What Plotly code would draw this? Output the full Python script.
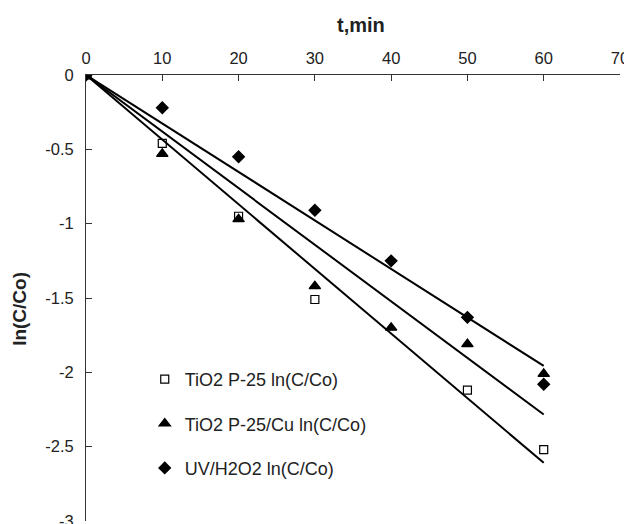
import plotly.graph_objects as go
import numpy as np

t = [0, 10, 20, 30, 40, 50, 60]
tio2 = [0, -0.46, -0.95, -1.51, None, -2.12, -2.52]
tio2_cu = [0, -0.53, -0.97, -1.42, -1.70, -1.81, -2.01]
uv_h2o2 = [0, -0.22, -0.55, -0.91, -1.25, -1.63, -2.08]
names = ["TiO2 P-25 ln(C/Co)", "TiO2 P-25/Cu ln(C/Co)", "UV/H2O2 ln(C/Co)"]
symbols = ["square-open", "triangle-up", "diamond"]
sizes = [8, 10, 9]

fig = go.Figure()
series = [tio2, tio2_cu, uv_h2o2]

# trend lines through origin (least squares)
for ys in series:
    xs = np.array([x for x, y in zip(t, ys) if y is not None], float)
    yv = np.array([y for y in ys if y is not None], float)
    k = (xs * yv).sum() / (xs * xs).sum()
    fig.add_trace(go.Scatter(x=[0, 60], y=[0, k * 60], mode="lines",
                             line=dict(color="black", width=2), showlegend=False,
                             hoverinfo="skip"))

for i, ys in enumerate(series):
    fig.add_trace(go.Scatter(x=t, y=ys, mode="markers", name=names[i],
                             legendgroup=str(i),
                             marker=dict(symbol=symbols[i], size=sizes[i], color="black",
                                         line=dict(color="black", width=1.2))))

FONT = "Liberation Sans, Arial, sans-serif"
# page body adds an 8px offset, so the figure is sized 8px smaller
fig.update_layout(
    width=624, height=516,
    margin=dict(l=78, r=12, t=67, b=3),
    plot_bgcolor="white", paper_bgcolor="white",
    font=dict(family=FONT, size=16.5, color="#222"),
    showlegend=True,
    legend=dict(x=0.11, y=0.359, xanchor="left", yanchor="top",
                bgcolor="rgba(0,0,0,0)", tracegroupgap=18,
                font=dict(family=FONT, size=18, color="#222")),
    xaxis=dict(side="top", range=[0, 70], tickvals=[0, 10, 20, 30, 40, 50, 60, 70],
               showgrid=False, zeroline=False, showline=True, linecolor="#333", linewidth=1,
               ticks="inside", ticklen=6, tickcolor="#333", automargin=False,
               ticklabelstandoff=3, ticklabeloverflow="allow"),
    yaxis=dict(range=[-3, 0], tickvals=[0, -0.5, -1, -1.5, -2, -2.5, -3],
               ticktext=["0", "-0.5", "-1", "-1.5", "-2", "-2.5", "-3"],
               showgrid=False, zeroline=False, showline=True, linecolor="#333", linewidth=1,
               ticks="inside", ticklen=6, tickcolor="#333", automargin=False,
               ticklabelstandoff=8, ticklabeloverflow="allow"),
    annotations=[
        dict(text="<b>t,min</b>", xref="paper", yref="paper", x=0.515, y=1,
             yanchor="middle", xanchor="center", yshift=50, showarrow=False,
             font=dict(family=FONT, size=20, color="#222")),
        dict(text="<b>ln(C/Co)</b>", xref="paper", yref="paper", x=-0.126, y=0.475,
             xanchor="center", yanchor="middle",
             textangle=-90, showarrow=False, font=dict(family=FONT, size=19, color="#222")),
    ],
)
fig.write_html("out.html")
